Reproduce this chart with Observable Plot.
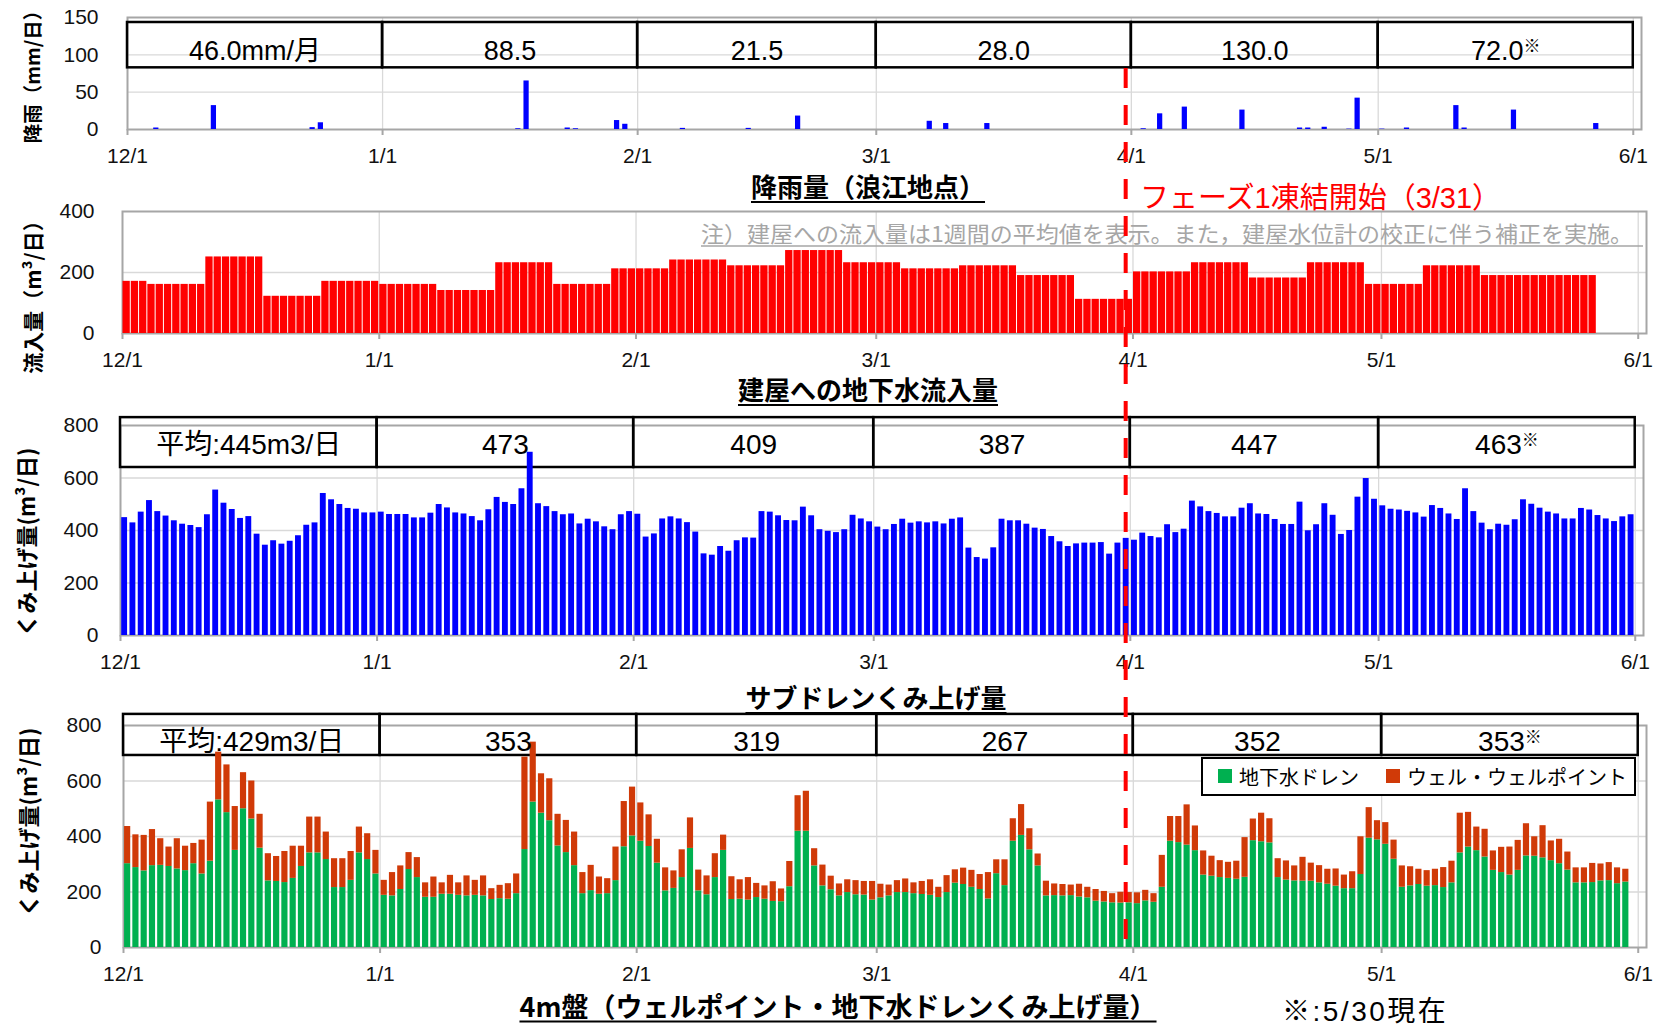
<!DOCTYPE html>
<html><head><meta charset="utf-8">
<script src="https://cdn.jsdelivr.net/npm/d3@7"></script>
<script src="https://cdn.jsdelivr.net/npm/@observablehq/plot@0.6"></script>
<style>
body{margin:0;background:#fff;}
#wrap{position:relative;width:1666px;height:1028px;overflow:hidden;font-family:"Noto Sans CJK JP",sans-serif;color:#000;}
.panel{position:absolute;left:0;}
.title{position:absolute;transform:translate(-50%,-50%);font-size:26px;line-height:1;font-weight:700;text-decoration:underline;text-underline-offset:4px;text-decoration-thickness:2px;white-space:nowrap;}
.ylab{position:absolute;transform:translate(-50%,-50%) rotate(-90deg);font-weight:700;line-height:1.1;white-space:nowrap;}
.abs{position:absolute;white-space:nowrap;}
</style></head>
<body><div id="wrap"></div>
<script>
// ---------------- DATA ----------------
const tickDates = ["2015-12-01","2016-01-01","2016-02-01","2016-03-01","2016-04-01","2016-05-01","2016-06-01"];
const tickLabels = ["12/1","1/1","2/1","3/1","4/1","5/1","6/1"];

// Rainfall (Namie), mm/day, non-zero days
const rainDates = ["2015-12-04","2015-12-11","2015-12-23","2015-12-24","2016-01-17","2016-01-18","2016-01-23","2016-01-24","2016-01-29","2016-01-30","2016-02-06","2016-02-14","2016-02-20","2016-03-07","2016-03-09","2016-03-14","2016-04-02","2016-04-04","2016-04-07","2016-04-14","2016-04-21","2016-04-22","2016-04-24","2016-04-27","2016-04-28","2016-05-01","2016-05-04","2016-05-10","2016-05-11","2016-05-17","2016-05-27"];
const rainMm = [2,32,2.5,9,1,65,2,1,12,7,1.5,1.5,18,11,8,8,1,21,30,26,2,2,3,0.5,42,0.5,2,32,2,26,8];
const rainMonthly = ["46.0mm/月","88.5","21.5","28.0","130.0","72.0※"];

// Groundwater inflow to buildings (weekly averages)
const inflowWeekStarts = ["2015-12-01","2015-12-04","2015-12-11","2015-12-18","2015-12-25","2016-01-01","2016-01-08","2016-01-15","2016-01-22","2016-01-29","2016-02-05","2016-02-12","2016-02-19","2016-02-26","2016-03-04","2016-03-11","2016-03-18","2016-03-25","2016-04-01","2016-04-08","2016-04-15","2016-04-22","2016-04-29","2016-05-06","2016-05-13","2016-05-20"];
const inflowEnd = "2016-05-27";
const inflowValues = [171,161,251,122,171,161,141,232,161,212,241,222,272,232,212,222,190,112,202,232,182,232,161,222,190,190];

// Sub-drain pumping, m3/day, from 2015-12-01
const seriesStart = "2015-12-01";
const subdrainDaily = [
 449,429,470,514,472,455,437,424,419,411,460,554,504,480,446,453,386,344,361,348,359,380,420,429,541,517,499,484,481,467,467,
 470,461,461,461,448,448,466,499,486,467,463,453,437,479,526,507,499,559,698,502,491,472,460,463,425,443,433,414,403,460,472,
 462,375,387,444,452,444,430,394,311,306,339,321,361,372,371,472,470,456,438,437,489,456,403,397,392,403,458,444,433,
 413,403,423,443,428,433,429,433,425,443,448,333,297,291,334,443,437,437,424,409,404,377,357,339,349,352,352,354,310,352,370,
 363,390,377,372,422,392,405,512,490,472,465,452,452,485,502,463,461,442,423,423,508,399,422,502,458,385,400,527,598,519,
 494,481,478,473,467,451,495,484,463,442,559,472,428,403,424,420,441,517,500,485,470,463,444,444,484,478,457,444,434,452,460];
const subdrainMonthly = ["平均:445m3/日","473","409","387","447","463※"];

// 4m area: groundwater drain + well point, m3/day, from 2015-12-01
const drainDaily = [
 302,288,276,295,296,292,283,277,302,265,311,532,486,350,500,463,358,240,238,234,249,292,341,341,317,216,216,242,341,317,265,
 188,186,209,281,252,181,181,192,192,188,186,188,186,173,176,174,194,353,524,484,457,366,342,295,194,205,192,194,241,363,402,
 383,364,304,204,213,252,357,204,190,252,350,173,174,171,180,174,166,165,219,419,419,294,222,208,186,198,190,189,171,
 179,186,198,198,194,191,188,180,198,232,227,217,209,175,266,223,383,404,352,294,186,187,186,187,182,179,167,164,161,160,161,
 158,168,163,217,383,378,369,349,261,257,252,249,246,253,385,381,377,252,243,240,239,239,233,228,221,212,212,263,394,388,
 372,318,217,222,227,221,223,216,233,341,362,349,326,278,270,261,278,330,329,323,313,302,279,233,233,234,240,241,230,236];
const wellPointDaily = [
 134,118,128,130,96,70,109,88,73,122,213,172,172,158,130,137,122,98,90,112,116,73,129,129,99,104,104,104,93,93,85,
 54,84,85,61,72,52,73,41,68,45,72,54,72,39,48,56,71,333,216,142,151,114,116,121,76,91,62,54,121,163,176,
 138,114,86,83,63,100,110,75,68,86,55,82,70,81,51,48,71,46,91,128,144,62,75,49,43,46,51,49,67,
 49,39,43,49,39,47,56,37,61,48,59,61,54,95,50,93,81,111,76,43,53,42,41,38,46,38,42,38,33,39,37,
 39,38,31,115,89,94,145,89,87,72,61,58,65,143,78,103,87,68,69,54,86,65,62,54,62,49,61,136,110,69,
 78,69,77,69,55,56,59,72,78,143,125,85,100,70,91,101,108,116,70,116,71,88,65,54,54,69,61,65,57,46];
const wellMonthly = ["平均:429m3/日","353","319","267","352","353※"];

const seriesNames = ["地下水ドレン","ウェル・ウェルポイント"];
const freezeDate = "2016-03-31";

// ---------------- HELPERS ----------------
const UTC = s => new Date(s + "T00:00:00Z");
const next = d => d3.utcDay.offset(d, 1);
const monthStarts = tickDates.map(UTC);
const labelByTime = new Map(monthStarts.map((d, i) => [+d, tickLabels[i]]));
const xStart = monthStarts[0];
const xEnd = d3.utcDay.offset(monthStarts[monthStarts.length - 1], 1);
const cells = d3.range(6).map(i => ({x1: monthStarts[i], x2: monthStarts[i + 1],
  xm: new Date((+monthStarts[i] + +monthStarts[i + 1]) / 2)}));

const GREEN = "#00b050", ORANGE = "#d03a08", BLUE = "#0000ff", RED = "#ff0000";
const TEXT_FONT = "'Liberation Sans', 'Noto Sans CJK JP', Arial, sans-serif";

function panel({height, mt, mb, ml, mr, yMax, yTicks, yPad, marks}) {
  return Plot.plot({
    width: 1666, height, marginTop: mt, marginBottom: mb, marginLeft: ml, marginRight: mr,
    style: {background: "transparent", fontFamily: TEXT_FONT, fontSize: "21px", color: "#111", overflow: "visible"},
    x: {type: "utc", domain: [xStart, xEnd]},
    y: {domain: [0, yMax]},
    marks: [
      Plot.gridY(yTicks.filter(v => v > 0 && v < yMax), {stroke: "#d9d9d9", strokeOpacity: 1, strokeWidth: 1.3}),
      Plot.gridX(monthStarts.slice(1), {stroke: "#d9d9d9", strokeOpacity: 1, strokeWidth: 1.3}),
      Plot.frame({stroke: "#a6a6a6", strokeWidth: 2}),
      ...marks,
      Plot.axisX(monthStarts, {tickFormat: d => labelByTime.get(+d), tickSize: 6, tickPadding: 13,
        stroke: "#a6a6a6", strokeWidth: 2, fill: "#111", fontSize: 21, label: null}),
      Plot.axisY(yTicks, {tickSize: 0, tickPadding: yPad, fill: "#111", fontSize: 21, label: null})
    ]
  });
}

function headerBox(labels, lo, hi) {
  const rows = cells.map((c, i) => ({...c, label: labels[i]}));
  return Plot.rect(rows, {x1: "x1", x2: "x2", y1: lo, y2: hi, fill: "none", stroke: "#000", strokeWidth: 2.5});
}
function headerText(labels, ty, fs) {
  const rows = cells.map((c, i) => ({...c, label: labels[i]}));
  return Plot.text(rows, {x: "xm", y: ty, text: "label", fontSize: fs, fontFamily: TEXT_FONT, fill: "#000", textAnchor: "middle", lineAnchor: "middle"});
}

// ---------------- BUILD DATA ROWS ----------------
const rain = rainDates.map((d, i) => ({date: UTC(d), mm: rainMm[i]}));

const inflow = [];
inflowWeekStarts.forEach((s, k) => {
  const end = UTC(k + 1 < inflowWeekStarts.length ? inflowWeekStarts[k + 1] : inflowEnd);
  for (let d = UTC(s); d < end; d = next(d)) inflow.push({date: d, v: inflowValues[k]});
});

const s0 = UTC(seriesStart);
const subdrain = subdrainDaily.map((v, i) => ({date: d3.utcDay.offset(s0, i), v}));
const well = drainDaily.map((g, i) => ({date: d3.utcDay.offset(s0, i), g, w: wellPointDaily[i]}));

// ---------------- PANELS ----------------
const wrap = document.getElementById("wrap");

const p1 = panel({height: 169, mt: 17, mb: 40, ml: 127, mr: 25, yMax: 150, yTicks: [0, 50, 100, 150], yPad: 29,
  marks: [
    headerBox(rainMonthly, 82.6, 143.3),
    Plot.rect(rain, {x1: "date", x2: d => next(d.date), y1: 0, y2: "mm", fill: BLUE, insetLeft: 1.5, insetRight: 1.5}),
    headerText(rainMonthly, 104.5, 27)
  ]});
const p2 = panel({height: 183, mt: 21, mb: 40, ml: 122, mr: 20, yMax: 400, yTicks: [0, 200, 400], yPad: 28,
  marks: [
    Plot.rect(inflow, {x1: "date", x2: d => next(d.date), y1: 0, y2: "v", fill: RED, insetLeft: 0.5, insetRight: 0.5})
  ]});
const p3 = panel({height: 275, mt: 25, mb: 40, ml: 120, mr: 23, yMax: 800, yTicks: [0, 200, 400, 600, 800], yPad: 22,
  marks: [
    headerBox(subdrainMonthly, 640, 830),
    Plot.rect(subdrain, {x1: "date", x2: d => next(d.date), y1: 0, y2: "v", fill: BLUE, insetLeft: 1.2, insetRight: 1.2}),
    headerText(subdrainMonthly, 726, 28)
  ]});
const p4 = panel({height: 287, mt: 25, mb: 40, ml: 123, mr: 20, yMax: 800, yTicks: [0, 200, 400, 600, 800], yPad: 22,
  marks: [
    headerBox(wellMonthly, 692, 840),
    Plot.rect(well, {x1: "date", x2: d => next(d.date), y1: 0, y2: "g", fill: GREEN, insetLeft: 1.05, insetRight: 1.05}),
    Plot.rect(well, {x1: "date", x2: d => next(d.date), y1: "g", y2: d => d.g + d.w, fill: ORANGE, insetLeft: 1.05, insetRight: 1.05}),
    headerText(wellMonthly, 740, 28)
  ]});

const NS = "http://www.w3.org/2000/svg";
function addSup(svg) {
  svg.querySelectorAll("text, tspan").forEach(t => {
    if (t.childElementCount === 0 && t.textContent.endsWith("※")) {
      t.textContent = t.textContent.slice(0, -1);
      const ts = document.createElementNS(NS, "tspan");
      ts.setAttribute("font-size", "17");
      ts.setAttribute("dy", "-8");
      ts.setAttribute("font-family", "'Noto Sans CJK JP'");
      ts.textContent = "※";
      t.appendChild(ts);
    }
  });
}

[[p1, 0], [p2, 190], [p3, 400], [p4, 700]].forEach(([p, top]) => {
  p.classList.add("panel");
  p.style.top = top + "px";
  addSup(p);
  wrap.appendChild(p);
});

// ---------------- HTML TEXT ----------------
function addDiv(cls, text, css) {
  const d = document.createElement("div");
  d.className = cls;
  d.textContent = text;
  Object.assign(d.style, css);
  wrap.appendChild(d);
  return d;
}
addDiv("title", "降雨量（浪江地点）", {left: "868px", top: "186px"});
addDiv("title", "建屋への地下水流入量", {left: "868px", top: "389px"});
addDiv("title", "サブドレンくみ上げ量", {left: "876px", top: "697px"});
addDiv("title", "4m盤（ウェルポイント・地下水ドレンくみ上げ量）", {left: "838px", top: "1005px", fontSize: "27px"});

addDiv("ylab", "降雨（mm/日）", {left: "32px", top: "72px", fontSize: "19.5px"});
addDiv("ylab", "流入量（m³/日）", {left: "33px", top: "292px", fontSize: "21px"});
addDiv("ylab", "くみ上げ量(m³/日)", {left: "25px", top: "542px", fontSize: "22px"});
addDiv("ylab", "くみ上げ量(m³/日)", {left: "27px", top: "822px", fontSize: "22px"});

addDiv("abs", "フェーズ1凍結開始（3/31）", {left: "1140px", top: "182px", fontSize: "29px", color: RED, lineHeight: "32px", fontFamily: TEXT_FONT});
addDiv("abs", "※:5/30現在", {left: "1282px", top: "998px", fontSize: "28px", lineHeight: "28px", letterSpacing: "2.5px", fontFamily: TEXT_FONT});

// legend
const leg = document.createElement("div");
Object.assign(leg.style, {position: "absolute", left: "1201px", top: "757px", width: "431px", height: "35px",
  border: "2px solid #000", background: "#fff", fontSize: "20px"});
[[GREEN, 15, 36, seriesNames[0]], [ORANGE, 183, 204, seriesNames[1]]].forEach(([c, sx, tx, name]) => {
  const sq = document.createElement("div");
  Object.assign(sq.style, {position: "absolute", left: sx + "px", top: "10px", width: "14px", height: "14px", background: c});
  const tt = document.createElement("div");
  tt.textContent = name;
  Object.assign(tt.style, {position: "absolute", left: tx + "px", top: "0px", lineHeight: "35px", whiteSpace: "nowrap"});
  leg.appendChild(sq); leg.appendChild(tt);
});
wrap.appendChild(leg);

// ---------------- OVERLAY (note + freeze line) ----------------
const ov = document.createElementNS(NS, "svg");
ov.setAttribute("width", 1666); ov.setAttribute("height", 1028);
Object.assign(ov.style, {position: "absolute", left: "0px", top: "0px", pointerEvents: "none"});
wrap.appendChild(ov);

const note = document.createElementNS(NS, "text");
note.setAttribute("x", 701); note.setAttribute("y", 242);
note.setAttribute("font-size", 22); note.setAttribute("fill", "#a6a6a6");
note.setAttribute("font-family", "'Noto Sans CJK JP'");
note.setAttribute("textLength", 932); note.setAttribute("lengthAdjust", "spacingAndGlyphs");
note.textContent = "注）建屋への流入量は1週間の平均値を表示。また，建屋水位計の校正に伴う補正を実施。";
ov.appendChild(note);
const ul = document.createElementNS(NS, "line");
ul.setAttribute("x1", 701); ul.setAttribute("x2", 1643); ul.setAttribute("y1", 246); ul.setAttribute("y2", 246);
ul.setAttribute("stroke", "#a6a6a6"); ul.setAttribute("stroke-width", 1.5);
ov.appendChild(ul);

const sx = p3.scale("x");
const fx = sx.apply ? sx.apply : d3.scaleUtc(sx.domain, sx.range);
const freezeX = fx(new Date(+UTC(freezeDate) + 864e5 / 2));
const dl = document.createElementNS(NS, "line");
dl.setAttribute("x1", freezeX); dl.setAttribute("x2", freezeX);
dl.setAttribute("y1", 68); dl.setAttribute("y2", 940);
dl.setAttribute("stroke", RED); dl.setAttribute("stroke-width", 4);
dl.setAttribute("stroke-dasharray", "20 17");
ov.appendChild(dl);
</script>
</body></html>
